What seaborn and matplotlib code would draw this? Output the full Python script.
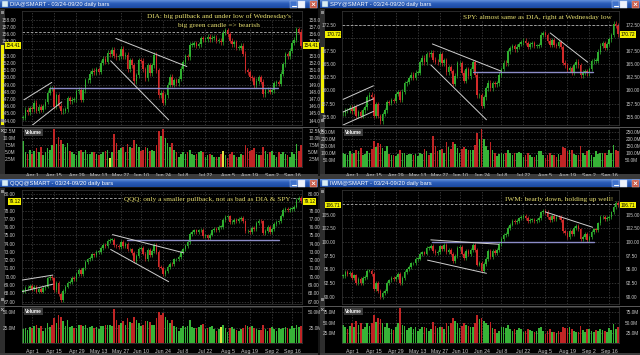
import numpy as np
import pandas as pd
import matplotlib
matplotlib.use('Agg')
import matplotlib.pyplot as plt
import matplotlib.transforms as mtransforms
from matplotlib.patches import Rectangle
from matplotlib.colors import LinearSegmentedColormap
from matplotlib.ticker import FuncFormatter
import seaborn as sns

# daily bars 03/25 .. 09/20 (126 sessions)
tick_idx = [4, 14, 24, 34, 44, 53, 63, 72, 82, 92, 102, 112, 121]
tick_lab = ['Apr 1', 'Apr 15', 'Apr 29', 'May 13', 'May 27', 'Jun 10', 'Jun 24',
            'Jul 8', 'Jul 22', 'Aug 5', 'Aug 19', 'Sep 2', 'Sep 16']

dia_close = [144.4, 145.5, 145.2, 145.7,
             145.6, 146.5, 145.4, 145.9, 145.5, 146.0, 146.6, 147.9, 148.5, 148.5,
             145.9, 147.5, 146.1, 145.3, 145.4, 145.6, 147.1, 146.7, 146.9, 147.0,
             148.1, 148.3, 146.9, 148.2, 149.6, 149.6, 150.5, 150.9, 150.7, 151.1,
             150.8, 152.0, 152.6, 152.2, 153.4, 153.2, 153.8, 153.0, 152.8, 152.9,
             154.0, 152.9, 153.1, 151.1,
             152.4, 151.7, 149.5, 150.3, 152.4, 152.3, 151.1, 149.9, 151.7, 150.6,
             151.7, 153.1, 151.0, 147.5, 147.9, 146.5, 147.5, 149.0, 150.1, 149.0,
             149.6, 149.2, 149.8, 151.2,
             152.1, 152.9, 152.8, 154.5, 154.5, 154.7, 154.4, 154.6, 155.4, 155.3,
             155.3, 155.6, 155.3, 155.5, 155.5, 155.1, 155.1, 154.9, 156.2, 156.5,
             156.0, 155.1, 154.6, 154.9, 154.1, 154.1, 154.4, 153.3, 151.0, 150.7,
             150.0, 149.9, 148.9, 149.5, 150.0, 149.4, 147.7, 148.2, 148.3, 148.0,
             148.2, 149.2, 149.3, 149.1,
             150.5, 151.8, 153.2, 152.9, 153.7, 154.8, 155.2, 156.7, 156.3, 154.41]
dia_vol = [9.0, 5.0, 4.5, 6.0,
           4.5, 5.5, 6.5, 5.0, 7.0, 4.0, 5.0, 6.5, 6.0, 7.5,
           13.5, 8.0, 10.5, 9.5, 8.0, 7.0, 8.5, 5.5, 5.0, 4.5,
           4.0, 5.5, 6.0, 5.0, 6.0, 4.5, 4.5, 5.0, 5.0, 4.5,
           4.0, 4.5, 5.0, 5.5, 6.0, 3.0, 5.0, 11.5, 8.5, 6.0,
           6.5, 7.0, 5.0, 8.0,
           7.0, 6.5, 9.5, 8.0, 7.0, 5.5, 6.0, 7.0, 6.5, 5.5,
           6.0, 5.5, 7.5, 12.5, 11.0, 13.5, 10.0, 8.5, 7.0, 8.5,
           6.0, 5.0, 3.5, 4.5,
           5.0, 4.5, 5.0, 6.0, 4.5, 4.0, 4.5, 5.0, 5.5, 5.0,
           3.5, 4.0, 4.5, 4.0, 3.5, 3.5, 3.5, 4.5, 5.5, 4.0,
           3.0, 4.5, 5.0, 4.0, 3.5, 3.5, 4.5, 4.0, 7.5, 6.5,
           5.5, 6.0, 6.5, 4.5, 4.0, 4.0, 7.0, 5.5, 4.5, 5.0,
           5.5, 4.0, 3.5, 5.0,
           4.5, 5.0, 4.5, 4.0, 3.5, 5.0, 4.5, 8.0, 5.5, 7.5]

spy_close = [155.6, 156.2, 156.2, 156.7,
             156.0, 156.8, 155.2, 155.9, 155.2, 156.2, 156.8, 158.7, 159.2, 158.8,
             155.1, 157.4, 155.1, 154.1, 155.5, 156.2, 157.8, 157.7, 158.2, 158.0,
             159.3, 159.7, 158.2, 159.8, 161.4, 161.6, 162.4, 163.0, 162.4, 163.4,
             163.4, 165.4, 166.3, 165.4, 167.0, 166.9, 167.2, 165.9, 165.5, 165.4,
             166.9, 165.2, 165.8, 163.5,
             164.4, 163.7, 161.3, 162.8, 165.2, 165.2, 163.4, 161.9, 164.1, 162.7,
             164.1, 165.4, 163.0, 159.1, 159.1, 157.1, 158.7, 160.4, 161.5, 160.4,
             161.4, 161.2, 161.4, 163.0,
             164.1, 165.3, 165.2, 167.5, 168.1, 168.5, 167.9, 168.4, 168.9, 169.2,
             169.5, 169.1, 168.3, 168.8, 169.1, 168.5, 168.5, 168.7, 170.7, 171.0,
             170.6, 169.5, 168.7, 169.6, 168.7, 168.6, 169.2, 168.3, 165.3, 164.8,
             163.9, 164.3, 163.4, 164.8, 165.5, 164.8, 162.9, 163.4, 163.7, 163.3,
             164.1, 165.6, 165.7, 165.7,
             167.4, 168.6, 169.1, 168.2, 168.9, 169.8, 170.6, 172.8, 172.4, 170.72]
spy_vol = [95, 90, 85, 110,
           90, 100, 120, 110, 135, 80, 90, 110, 100, 125,
           185, 140, 170, 160, 130, 110, 150, 90, 85, 85,
           75, 90, 115, 95, 100, 80, 90, 90, 80, 90,
           75, 95, 90, 125, 110, 85, 100, 220, 150, 110,
           120, 125, 100, 175,
           140, 125, 175, 160, 130, 100, 125, 140, 125, 120,
           115, 120, 155, 240, 200, 265, 200, 150, 120, 175,
           115, 100, 75, 90,
           95, 90, 100, 120, 95, 85, 100, 95, 105, 100,
           70, 85, 95, 85, 70, 70, 80, 110, 110, 80,
           60, 85, 95, 85, 80, 70, 90, 85, 140, 130,
           110, 120, 115, 90, 85, 80, 145, 100, 85, 110,
           115, 85, 70, 110,
           90, 100, 95, 95, 85, 120, 95, 155, 115, 110]

qqq_close = [68.3, 68.6, 68.6, 68.9,
             68.5, 68.8, 68.2, 68.5, 68.2, 68.6, 68.8, 69.8, 70.0, 69.8,
             68.4, 69.3, 67.9, 67.2, 68.3, 68.8, 69.3, 69.4, 69.9, 69.7,
             70.3, 70.8, 70.3, 71.0, 71.8, 72.1, 72.3, 72.7, 72.6, 73.0,
             73.0, 73.5, 73.9, 73.7, 74.3, 74.5, 74.5, 73.8, 73.7, 73.6,
             74.2, 73.7, 74.0, 73.3,
             73.3, 72.9, 71.9, 72.5, 73.4, 73.5, 72.8, 72.1, 73.2, 72.6,
             73.1, 73.9, 73.0, 71.2, 71.1, 70.3, 70.7, 71.2, 71.6, 71.5,
             72.1, 72.1, 72.4, 73.0,
             73.3, 73.7, 74.2, 75.2, 75.4, 75.6, 75.4, 75.6, 75.7, 74.9,
             75.0, 74.7, 75.1, 75.6, 75.8, 75.6, 76.0, 76.0, 76.9, 77.2,
             77.3, 76.6, 76.6, 76.9, 76.7, 77.0, 77.1, 76.7, 75.5, 75.5,
             75.4, 75.9, 75.8, 76.5, 76.8, 76.7, 75.3, 75.5, 76.0, 75.4,
             75.8, 76.4, 76.6, 76.7,
             77.4, 78.1, 78.2, 78.1, 78.2, 78.2, 78.5, 79.3, 79.5, 79.12]
qqq_vol = [22, 24, 21, 26,
           24, 27, 30, 25, 28, 20, 24, 33, 26, 30,
           40, 32, 45, 42, 35, 28, 38, 26, 27, 25,
           24, 29, 30, 27, 30, 24, 26, 27, 25, 26,
           22, 27, 28, 30, 29, 30, 28, 55, 38, 30,
           32, 35, 30, 40,
           34, 33, 42, 38, 33, 28, 30, 36, 35, 34,
           30, 29, 40, 50, 46, 48, 42, 38, 32, 38,
           28, 26, 20, 24,
           27, 26, 28, 38, 26, 24, 25, 26, 29, 31,
           22, 24, 26, 27, 22, 20, 22, 26, 30, 24,
           18, 24, 26, 22, 21, 20, 22, 24, 30, 28,
           26, 28, 25, 22, 21, 21, 30, 23, 20, 24,
           26, 22, 19, 24,
           22, 25, 26, 24, 22, 28, 24, 30, 26, 28]

iwm_close = [93.8, 94.6, 94.2, 94.4,
             93.4, 93.9, 92.6, 93.2, 92.6, 93.4, 93.6, 94.8, 94.8, 94.1,
             91.5, 92.6, 91.0, 89.9, 90.7, 91.0, 92.5, 93.0, 93.4, 93.2,
             93.7, 94.2, 92.6, 93.4, 94.6, 95.0, 95.4, 96.1, 96.1, 96.9,
             97.0, 97.8, 98.1, 97.9, 98.9, 99.0, 99.3, 98.3, 98.0, 98.2,
             99.2, 98.7, 99.5, 98.2,
             98.6, 97.9, 96.6, 97.4, 98.9, 99.1, 97.9, 97.1, 98.3, 97.8,
             98.5, 99.5, 98.5, 95.9, 96.2, 94.8, 96.0, 96.9, 98.3, 97.3,
             98.3, 98.0, 98.5, 99.7,
             100.6, 101.3, 101.5, 102.6, 103.2, 103.8, 103.6, 103.9, 104.3, 104.5,
             104.8, 104.4, 103.8, 104.0, 104.1, 103.8, 104.1, 104.4, 105.4, 105.6,
             105.5, 104.6, 104.1, 104.7, 104.2, 104.6, 104.5, 104.0, 102.0, 101.7,
             101.0, 102.1, 101.4, 102.6, 102.9, 102.3, 100.6, 101.0, 101.5, 100.4,
             100.9, 101.9, 102.3, 102.2,
             103.4, 104.5, 104.5, 104.2, 104.4, 104.6, 105.4, 106.4, 107.1, 106.71]
iwm_vol = [45, 40, 35, 42,
           48, 40, 55, 45, 50, 35, 38, 48, 42, 50,
           68, 52, 62, 58, 48, 40, 50, 36, 34, 32,
           40, 48, 85, 45, 42, 32, 36, 40, 34, 38,
           30, 35, 38, 40, 36, 30, 34, 52, 42, 36,
           38, 40, 34, 48,
           42, 48, 60, 54, 48, 36, 42, 48, 44, 42,
           40, 38, 50, 68, 58, 62, 55, 50, 44, 52,
           36, 34, 24, 30,
           38, 40, 36, 44, 34, 30, 34, 32, 36, 34,
           28, 30, 34, 32, 30, 26, 30, 36, 38, 30,
           22, 30, 34, 28, 26, 24, 30, 28, 40, 36,
           36, 38, 34, 30, 28, 28, 42, 32, 28, 34,
           34, 30, 26, 32,
           30, 34, 32, 30, 28, 36, 32, 46, 34, 40]

# hand drawn lines on the charts: (bar0, price0, bar1, price1)
dia_trends = [(0.4, 146.9, 12.9, 149.3), (3.4, 143.2, 17.4, 146.6),
              (41.7, 155.4, 73.7, 151.5), (39.4, 152.3, 65.5, 144.1)]
spy_trends = [(0, 158.3, 13.8, 160.9), (0, 155.9, 13.8, 158.4), (0, 153.4, 13.8, 156.0),
              (40.6, 168.9, 71.9, 163.7), (39.9, 164.9, 65.2, 154.4),
              (94.2, 171.0, 111.3, 165.4)]
qqq_trends = [(-0.4, 69.6, 13.4, 70.2), (-0.4, 68.2, 13.4, 69.1),
              (40.2, 75.1, 72.2, 72.9), (39.4, 73.3, 65.5, 69.4)]
iwm_trends = [(39.9, 100.4, 70.8, 99.6), (38.4, 96.7, 65.2, 94.3),
              (92.0, 105.5, 113.5, 102.7)]
dia_hline = (11.9, 114.6, 148.47)
spy_hline = (59.2, 113.5, 163.5)
qqq_hline = (46.9, 115.3, 74.5)
iwm_hline = (40.6, 114.3, 100.0)

notes = [
    ('DIA: big pullback and under low of Wednesday\'s', 219, 16),
    ('big green candle => bearish', 219, 25),
    ('SPY: almost same as DIA, right at Wednesday low', 537, 18),
    ('QQQ: only a smaller pullback, not as bad as DIA & SPY', 207, 199),
    ('IWM: bearly down, holding up well!', 559, 200),
]

W, H = 640, 355
GREEN, RED = '#2fae2f', '#d22a2a'
VGREEN, VRED, VMARK = '#37b337', '#c02525', '#e6e040'
LABEL = '#c8c8c8'
GRID = '#474747'
FS = 3.4

sns.set_style('dark')
plt.rcParams['font.family'] = ['Liberation Sans', 'DejaVu Sans']

fig = plt.figure(figsize=(6.4, 3.55), dpi=100, facecolor='#151515')


def px_axes(x, y, w, h):
    return fig.add_axes([x / W, 1 - (y + h) / H, w / W, h / H])


def draw_window(ox, oy, ww, pw, vh, name, closes, vols, ylim, yticks, vlim, vticks,
                wick, dash_level, hline, trends, marks, strip):
    closes = np.array(closes, dtype=float)
    vols = np.array(vols, dtype=float)
    n = len(closes)
    x = np.arange(n)
    last = closes[-1]

    # window body
    bg = px_axes(ox, oy + 8.5, ww, 168.5)
    bg.set_facecolor('black')
    bg.set_xlim(0, ww)
    bg.set_ylim(168.5, 0)
    bg.set_xticks([])
    bg.set_yticks([])
    for s in bg.spines.values():
        s.set_visible(False)
    bg.plot([0, ww], [118, 118], color='#5a5a5a', lw=0.7)
    bg.add_patch(Rectangle((0, 0.5), 4.8, 165, fc='#2e2e2e', ec='none'))
    bg.add_patch(Rectangle((0.5, strip[0] - 8.5), 3.6, strip[1] - strip[0],
                           fc='#f2f000', ec='none'))
    bg.add_patch(Rectangle((0.7, 2), 3.2, 3.2, fc='#8a8a8a', ec='none'))
    bg.add_patch(Rectangle((0.7, 110), 3.2, 3.2, fc='#8a8a8a', ec='none'))
    bg.plot([1.2, 3.4], [120.8, 123.2], color='#bbbbbb', lw=0.5)
    bg.plot([1.2, 3.4], [123.2, 120.8], color='#bbbbbb', lw=0.5)
    bg.add_patch(Rectangle((0, 165.5), ww, 3, fc='#3c3c3c', ec='none'))

    # title bar
    tb = px_axes(ox, oy, ww, 8.5)
    grad = np.linspace(0, 1, 12)[:, None]
    cmap = LinearSegmentedColormap.from_list('tb', ['#6e9ae0', '#2a5cb8', '#1c4aa2'])
    tb.imshow(grad, aspect='auto', cmap=cmap, extent=[0, ww, 0, 8.5])
    tb.set_xlim(0, ww)
    tb.set_ylim(0, 8.5)
    tb.axis('off')
    tb.add_patch(Rectangle((1.5, 1.3), 6, 6, fc='#d8ecf4', ec='#4a7ac0', lw=0.3))
    tb.text(10, 4.3, f'{name}@SMART - 03/24-09/20 daily bars', color='white',
            fontsize=4.2, va='center', ha='left')
    tb.add_patch(Rectangle((ww - 28, 1), 7, 6.5, fc='#3f72cc', ec='#c0d4f4', lw=0.3))
    tb.plot([ww - 26.5, ww - 22.5], [2.3, 2.3], color='white', lw=0.8)
    tb.add_patch(Rectangle((ww - 20, 1), 7, 6.5, fc='#eef2fa', ec='#c0d4f4', lw=0.3))
    tb.add_patch(Rectangle((ww - 8, 1), 7, 6.5, fc='#c85846', ec='#f0c0b0', lw=0.3))
    tb.plot([ww - 6, ww - 3], [2.7, 5.7], color='white', lw=0.6)
    tb.plot([ww - 6, ww - 3], [5.7, 2.7], color='white', lw=0.6)

    # price pane
    axp = px_axes(ox + 22, oy + 11, pw, 114)
    axp.set_facecolor('black')
    opens = np.r_[closes[0], closes[:-1]]
    up = closes >= opens
    lo = np.minimum(opens, closes)
    hi = np.maximum(opens, closes)
    body = np.maximum(hi - lo, (ylim[1] - ylim[0]) * 0.006)
    cols = np.where(up, GREEN, RED)
    axp.vlines(x, lo - wick, hi + wick, colors=cols, lw=0.5, zorder=3)
    axp.bar(x, body, bottom=lo, width=0.72, color=cols, lw=0, zorder=3)
    axp.axhline(dash_level, color='#b4b4b4', ls=(0, (3, 2)), lw=0.6, zorder=2)
    axp.plot([hline[0], hline[1]], [hline[2], hline[2]], color='#8c8cc8', lw=1.0, zorder=4)
    for x0, y0, x1, y1 in trends:
        axp.plot([x0, x1], [y0, y1], color='#cfcfcf', lw=0.7, zorder=4)
    axp.set_xlim(-0.5, n - 0.5)
    axp.set_ylim(*ylim)
    axp.set_yticks(yticks)
    axp.set_xticks(tick_idx)
    step = yticks[1] - yticks[0]
    axp.yaxis.set_major_formatter(
        FuncFormatter(lambda v, p: '' if abs(v - last) < 0.45 * step else f'{v:.2f}'))
    axp.tick_params(axis='y', left=False, right=False, labelleft=True, labelright=True,
                    labelsize=FS, labelcolor=LABEL, pad=1.0)
    axp.tick_params(axis='x', bottom=False, labelbottom=False)
    axp.grid(True, color=GRID, ls=(0, (2, 2)), lw=0.5)
    axp.set_axisbelow(True)
    for s in axp.spines.values():
        s.set_color('#3a3a3a')
        s.set_linewidth(0.5)
    tr = mtransforms.blended_transform_factory(axp.transAxes, axp.transData)
    box = dict(boxstyle='square,pad=0.15', fc='#f2f000', ec='none')
    axp.text(1.005, last, f'{last:.2f}', transform=tr, ha='left', va='center',
             fontsize=FS, color='black', bbox=box, clip_on=False, zorder=6)
    axp.text(-0.005, last, f'{last:.2f}', transform=tr, ha='right', va='center',
             fontsize=FS, color='black', bbox=box, clip_on=False, zorder=6)

    # volume pane
    axv = px_axes(ox + 22, oy + 128, pw, vh)
    axv.set_facecolor('black')
    kind = np.where(up, 'up', 'down').astype(object)
    kind[marks] = 'mark'
    df = pd.DataFrame({'bar': x, 'vol': vols, 'kind': kind})
    sns.barplot(data=df, x='bar', y='vol', hue='kind',
                palette={'up': VGREEN, 'down': VRED, 'mark': VMARK},
                native_scale=True, dodge=False, width=0.75, errorbar=None,
                legend=False, saturation=1, linewidth=0, ax=axv)
    axv.set_xlabel('')
    axv.set_ylabel('')
    axv.set_xlim(-0.5, n - 0.5)
    axv.set_ylim(*vlim)
    axv.set_yticks(vticks)
    axv.set_xticks(tick_idx)
    axv.set_xticklabels(tick_lab)
    axv.yaxis.set_major_formatter(FuncFormatter(lambda v, p: f'{v:.1f}M'))
    axv.tick_params(axis='y', left=False, right=False, labelleft=True, labelright=True,
                    labelsize=FS, labelcolor=LABEL, pad=1.0)
    axv.tick_params(axis='x', bottom=False, labelsize=3.8, labelcolor=LABEL, pad=1.0)
    axv.grid(True, color=GRID, ls=(0, (2, 2)), lw=0.5)
    axv.set_axisbelow(True)
    for s in axv.spines.values():
        s.set_color('#3a3a3a')
        s.set_linewidth(0.5)
    axv.text(0.012, 0.88, 'Volume', transform=axv.transAxes, fontsize=3.4,
             color='white', weight='bold', va='center', ha='left',
             bbox=dict(boxstyle='square,pad=0.2', fc='#3a3a3a', ec='none'), zorder=6)


draw_window(0, 0, 318, 280, 38.5, 'DIA', dia_close, dia_vol, (143.4, 159.2),
            np.arange(144, 159, 1.0), (0, 13.7), [2.5, 5.0, 7.5, 10.0, 12.5],
            0.35, 156.3, dia_hline, dia_trends, [39, 90], (45, 125))
draw_window(320, 0, 320, 277, 38.5, 'SPY', spy_close, spy_vol, (153.4, 175.2),
            np.arange(155, 173, 2.5), (0, 275), [50, 100, 150, 200, 250],
            0.45, 172.6, spy_hline, spy_trends, [], (47, 113))
draw_window(0, 179, 318, 280, 36, 'QQQ', qqq_close, qqq_vol, (66.7, 80.5),
            np.arange(67, 81, 1.0), (0, 58.5), [25, 50],
            0.22, 79.5, qqq_hline, qqq_trends, [89], (229, 294))
draw_window(320, 179, 320, 277, 36, 'IWM', iwm_close, iwm_vol, (88.7, 109.5),
            np.arange(90, 108, 2.5), (0, 88), [25, 50, 75],
            0.35, 106.9, iwm_hline, iwm_trends, [], (228, 294))

strip = px_axes(0, 176, 640, 3)
strip.set_facecolor('#3a3a3a')
strip.set_xticks([])
strip.set_yticks([])
for s in strip.spines.values():
    s.set_visible(False)

for txt, cx, cy in notes:
    fig.text(cx / W, 1 - cy / H, txt, ha='center', va='center', fontsize=5.2,
             family='Liberation Serif', color='#e8e070', zorder=10,
             bbox=dict(boxstyle='square,pad=0.1', fc='black', ec='none'))

fig.savefig('out.png', dpi=100, facecolor=fig.get_facecolor())
